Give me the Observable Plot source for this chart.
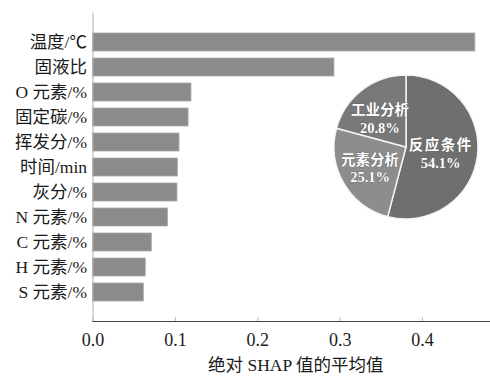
<!DOCTYPE html>
<html><head><meta charset="utf-8">
<script src="https://cdn.jsdelivr.net/npm/d3@7"></script>
<script src="https://cdn.jsdelivr.net/npm/@observablehq/plot@0.6"></script>
<style>body{margin:0;background:#fff}</style>
</head><body><div id="chart"></div>
<script>
const features = ["温度/℃","固液比","O 元素/%","固定碳/%","挥发分/%","时间/min","灰分/%","N 元素/%","C 元素/%","H 元素/%","S 元素/%"];
const shapValues = [0.464,0.293,0.1195,0.116,0.105,0.103,0.1025,0.091,0.0714,0.064,0.0617];
const xTicks = [0,0.1,0.2,0.3,0.4];
const groups = ["反应条件","元素分析","工业分析"];
const groupShares = [54.1,25.1,20.8];
const groupColors = ["#6f6f6f","#8d8d8d","#787878"];
const xLabel = "绝对 SHAP 值的平均值";

const bars = features.map((f,i)=>({feature:f, value:shapValues[i]}));
const pieData = groups.map((g,i)=>({group:g, share:groupShares[i], color:groupColors[i]}));

const font = '"Liberation Serif","Noto Sans CJK SC",serif';

function pieMark(index, scales, values, dims) {
  const cx = 406, cy = 147, r = 72;
  const g = d3.create("svg:g").attr("transform", `translate(${cx},${cy})`);
  const arcs = d3.pie().sort(null).value(d => d.share)(pieData);
  const arc = d3.arc().innerRadius(0).outerRadius(r);
  const labelArc = d3.arc().innerRadius(38).outerRadius(38);
  g.selectAll("path").data(arcs).join("path")
    .attr("d", arc).attr("fill", d => d.data.color)
    .attr("stroke", "#f4f4f4").attr("stroke-width", 1.5);
  const t = g.selectAll("g.lab").data(arcs).join("g")
    .attr("transform", d => { const [x, y] = labelArc.centroid(d); return `translate(${x - 3},${y + 2})`; });
  const common = s => s.attr("text-anchor", "middle").attr("fill", "#fff")
    .attr("font-weight", "bold").attr("font-size", 14.5).attr("font-family", font)
    .attr("stroke", "#555").attr("stroke-width", 0.6).attr("paint-order", "stroke");
  t.append("text").text(d => d.data.group).attr("y", -3.5)
    .attr("letter-spacing", d => d.index === 0 ? 1.5 : 0).call(common);
  t.append("text").text(d => d.data.share.toFixed(1) + "%").attr("y", 14).call(common);
  return g.node();
}

const chart = Plot.plot({
  width: 490, height: 376,
  marginLeft: 92.5, marginRight: 0, marginTop: 12.7, marginBottom: 55,
  style: {fontFamily: font, background: "#fff", color: "#1a1a1a"},
  x: {domain: [0, 0.4824]},
  y: {domain: features, paddingInner: 0.3, paddingOuter: 0.66},
  marks: [
    Plot.barX(bars, {x: "value", y: "feature", fill: "#8b8b8b", stroke: "#a9a9a9", strokeWidth: 0.8}),
    Plot.ruleX([0], {stroke: "#b0b0b0", strokeWidth: 1}),
    Plot.frame({anchor: "bottom", stroke: "#444", strokeWidth: 1.2}),
    Plot.axisY({tickSize: 0, tickPadding: 6, fontSize: 17.5, label: null, fill: "#1a1a1a"}),
    Plot.axisX(xTicks, {tickSize: -4, tickFormat: () => "", label: null, stroke: "#bbb"}),
    Plot.axisX(xTicks, {tickSize: 0, tickPadding: 12, fontSize: 18, label: null, tickFormat: d3.format(".1f"), fill: "#1a1a1a"}),
    Plot.text([xLabel], {text: d => d, frameAnchor: "bottom", lineAnchor: "middle", dx: 4, dy: 44, fontSize: 17.5, fill: "#1a1a1a"}),
    pieMark
  ]
});
document.getElementById("chart").appendChild(chart);
</script>
</body></html>
